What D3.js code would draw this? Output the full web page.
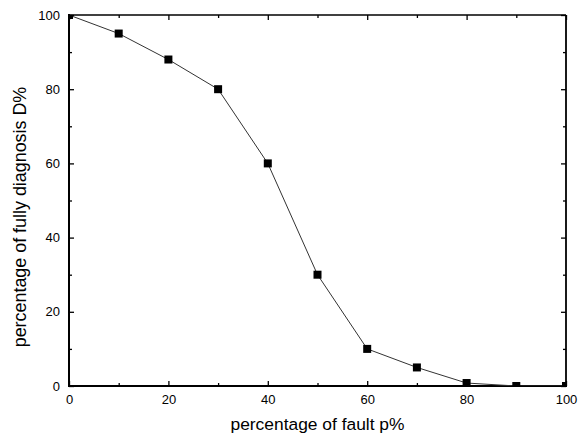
<!DOCTYPE html>
<html>
<head>
<meta charset="utf-8">
<script src="https://cdn.jsdelivr.net/npm/d3@7"></script>
<style>
  html, body { margin: 0; padding: 0; background: #fff; overflow: hidden; }
  svg { display: block; }
  text { font-family: "Liberation Sans", Arial, sans-serif; fill: #000; }
</style>
</head>
<body>
<svg id="chart" width="579" height="439"></svg>
<script>
// data
const faultPct = [0, 10, 20, 30, 40, 50, 60, 70, 80, 90, 100];
const diagnosisPct = [100, 95, 88, 80, 60, 30, 10, 5, 0.8, 0, 0];
const majorTicks = [0, 20, 40, 60, 80, 100];
const minorTicks = [10, 30, 50, 70, 90];

const xLabel = 'percentage of fault p%';
const yLabel = 'percentage of fully diagnosis D%';

const margin = { left: 69, right: 13, top: 15, bottom: 53 };
const svg = d3.select('#chart');
const width = +svg.attr('width');
const height = +svg.attr('height');
const innerWidth = width - margin.left - margin.right;
const innerHeight = height - margin.top - margin.bottom;

const points = faultPct.map((x, i) => ({ x: x, y: diagnosisPct[i] }));

const xScale = d3.scaleLinear().domain([0, 100]).range([0, innerWidth]);
const yScale = d3.scaleLinear().domain([0, 100]).range([innerHeight, 0]);

const g = svg.append('g')
    .attr('transform', `translate(${margin.left},${margin.top})`);

g.append('clipPath').attr('id', 'plot-clip')
  .append('rect')
    .attr('width', innerWidth)
    .attr('height', innerHeight);

/* ticks, all pointing inward */
function inwardAxis(axisFn, scale, tickVals, size) {
    return axisFn(scale)
        .tickValues(tickVals)
        .tickSize(-size)
        .tickPadding(9)
        .tickFormat(d3.format('d'));
}

function addAxis(axisFn, transform, scale, labelled) {
    const ag = g.append('g').attr('transform', transform);
    ag.call(inwardAxis(axisFn, scale, majorTicks, 5));
    ag.append('g').call(inwardAxis(axisFn, scale, minorTicks, 3));
    ag.selectAll('.domain').remove();
    if (!labelled) {
        ag.selectAll('.tick text').remove();
    } else {
        ag.selectAll(':scope > g > g.tick text').remove();  // minor tick labels
    }
    return ag;
}

const bottomG = addAxis(d3.axisBottom, `translate(0,${innerHeight})`, xScale, true);
const leftG = addAxis(d3.axisLeft, 'translate(0,0)', yScale, true);
addAxis(d3.axisTop, 'translate(0,0)', xScale, false);
addAxis(d3.axisRight, `translate(${innerWidth},0)`, yScale, false);

g.selectAll('.tick line').attr('stroke', '#000').attr('stroke-width', 1.3);
g.selectAll('.tick text')
    .style('font-size', '13px')
    .style('font-family', '"Liberation Sans", Arial, sans-serif')
    .attr('fill', '#000');

/* frame */
g.append('line').attr('x1', 0).attr('x2', innerWidth).attr('y1', 0).attr('y2', 0)
    .attr('stroke', '#000').attr('stroke-width', 1.5);
g.append('line').attr('x1', innerWidth).attr('x2', innerWidth).attr('y1', 0).attr('y2', innerHeight)
    .attr('stroke', '#000').attr('stroke-width', 1.8);
g.append('line').attr('x1', 0).attr('x2', 0).attr('y1', -1).attr('y2', innerHeight + 1)
    .attr('stroke', '#000').attr('stroke-width', 2);
g.append('line').attr('x1', -1).attr('x2', innerWidth + 1).attr('y1', innerHeight).attr('y2', innerHeight)
    .attr('stroke', '#000').attr('stroke-width', 2);

/* series */
const line = d3.line()
    .x(d => xScale(d.x))
    .y(d => yScale(d.y));

const plot = g.append('g').attr('clip-path', 'url(#plot-clip)');

plot.append('path')
    .datum(points)
    .attr('fill', 'none')
    .attr('stroke', '#333')
    .attr('stroke-width', 1)
    .attr('d', line);

plot.selectAll('rect.marker').data(points)
  .enter().append('rect')
    .attr('class', 'marker')
    .attr('x', d => xScale(d.x) - 4)
    .attr('y', d => yScale(d.y) - 4)
    .attr('width', 8)
    .attr('height', 8)
    .attr('fill', '#000');

/* axis titles */
g.append('text')
    .attr('x', innerWidth / 2)
    .attr('y', innerHeight + 44)
    .style('text-anchor', 'middle')
    .style('font-size', '17.4px')
    .text(xLabel);

g.append('text')
    .attr('transform', `translate(${26 - margin.left},${217 - margin.top}) rotate(-90)`)
    .style('text-anchor', 'middle')
    .style('font-size', '17.9px')
    .text(yLabel);
</script>
</body>
</html>
